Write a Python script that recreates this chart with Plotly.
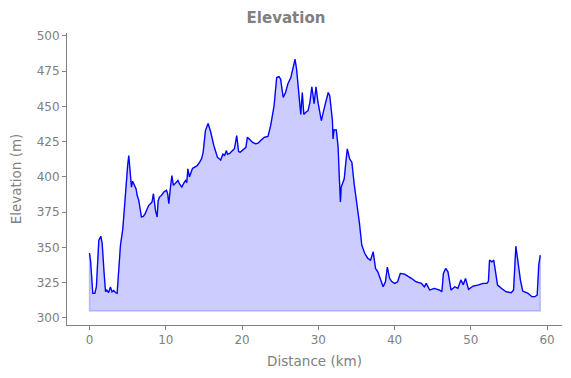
import plotly.graph_objects as go

distance_km = [0, 0.15, 0.43, 0.7, 0.9, 1.22, 1.48, 1.66, 1.9, 2.1, 2.27, 2.5, 2.75, 2.95, 3.18, 3.4, 3.62,
               3.85, 4.06, 4.37, 4.7, 5.0, 5.15, 5.3, 5.5, 5.65, 5.8, 6.1, 6.25, 6.46, 6.81, 7.05, 7.25, 7.5,
               7.77, 8.0, 8.2, 8.38, 8.5, 8.65, 8.87, 9.0, 9.17, 9.43, 9.74, 10.1, 10.25, 10.4, 10.6, 10.8,
               11.0, 11.2, 11.6, 11.8, 12.1, 12.4, 12.6, 12.75, 12.9, 13.1, 13.3, 13.5, 13.8, 14.1, 14.45,
               14.7, 14.9, 15.05, 15.2, 15.55, 15.9, 16.3, 16.5, 16.77, 17.0, 17.2, 17.5, 17.7, 17.95, 18.1,
               18.4, 18.8, 19.0, 19.3, 19.55, 19.75, 20.35, 20.5, 20.7, 21.1, 21.4, 21.8, 22.1, 22.45, 22.9,
               23.4, 23.75, 24.2, 24.4, 24.54, 24.85, 25.06, 25.25, 25.4, 25.7, 26.0, 26.4, 26.7, 26.95,
               27.15, 27.4, 27.7, 27.9, 28.1, 28.4, 28.65, 28.9, 29.15, 29.45, 29.7, 29.96, 30.4, 30.8,
               31.3, 31.5, 31.7, 31.85, 31.93, 32.06, 32.36, 32.6, 32.75, 32.9, 33.0, 33.2, 33.4, 33.6,
               33.8, 34.1, 34.4, 34.7, 35.0, 35.4, 35.7, 36.1, 36.5, 36.85, 37.2, 37.5, 37.8, 38.0, 38.5,
               38.8, 39.05, 39.35, 39.6, 40.0, 40.4, 40.75, 41.3, 42.2, 42.8, 43.5, 43.9, 44.15, 44.6,
               45.2, 45.9, 46.2, 46.4, 46.7, 47.0, 47.4, 47.9, 48.3, 48.7, 49.0, 49.3, 49.7, 50.3, 50.9,
               51.6, 52.1, 52.3, 52.45, 52.76, 53.0, 53.2, 53.5, 54.0, 54.6, 55.3, 55.6, 55.9, 56.2, 56.5,
               56.8, 57.5, 58.0, 58.4, 58.7, 58.9, 59.1]

elevation_m = [346, 340, 317.4, 317.5, 322, 355, 358, 353, 333, 318.6, 319.8, 318, 322, 318.5, 319.5, 318, 317.5,
               335, 351.6, 363.4, 390, 408, 415.2, 405, 392.8, 397, 395.2, 391.7, 387, 383.4, 371.6, 372, 373.5, 377,
               379.9, 381, 382.2, 388.1, 381, 376.3, 371.6, 383, 385.7, 386.9, 389.3, 390.5, 388, 381, 392, 401,
               394, 395.2, 397.5, 395, 392.8, 396, 397.5, 396, 405.8, 400, 403.4, 406, 407, 408, 410.5,
               413, 417.5, 425, 432.9, 438, 431.7, 422.3, 418, 414, 413, 412, 416.4, 415, 418.7, 416,
               416.8, 418.7, 420, 429.3, 418, 417.5, 419.9, 421, 428.1, 425.8, 424.5, 423.5, 424, 425.8, 428.1,
               428.8, 436.4, 450.5, 462, 470.5, 471.2, 469.4, 462, 456.4, 459.9, 465.9, 470.5, 477.6, 483.5,
               476.5, 459.9, 444.4, 459.9, 444.4, 446, 447, 452.9, 464, 452, 464, 452.9, 439.9, 449.3,
               459.9, 457.6, 449.3, 440, 427, 433.4, 433.4, 421, 400, 382.2, 392.8, 396, 398.7, 410,
               419.9, 412.9, 410.5, 395.2, 383.4, 366.9, 351.6, 345.7, 342.2, 341, 346.9, 335.1, 332.7, 329.2, 322.1,
               325.7, 336, 328.1, 326, 324.5, 325.7, 331.6, 331.1, 328.1, 325.7, 324.5, 322.1, 324.5, 319.8,
               321, 319.8, 318.6, 331.6, 335.1, 332.7, 319.8, 322.1, 321, 327, 323.5, 328, 320.3, 322.6, 323.3,
               324.5, 324.5, 326, 341, 339.8, 341, 332.7, 323.3, 321, 318.6, 317.9, 319.8, 350.9, 338.7, 326.9,
               319.1, 317.5, 315.1, 315.1, 316.3, 337.5, 344.5]

baseline_m = 305
x_ticks = [0, 10, 20, 30, 40, 50, 60]
y_ticks = [300, 325, 350, 375, 400, 425, 450, 475, 500]

grey = "#808080"

poly_x = distance_km + [distance_km[-1], distance_km[0], distance_km[0]]
poly_y = elevation_m + [baseline_m, baseline_m, elevation_m[0]]

fig = go.Figure()
fig.add_trace(go.Scatter(x=poly_x, y=poly_y, mode="lines", fill="toself",
                         fillcolor="rgba(0,0,255,0.2)",
                         line=dict(color="rgba(0,0,255,0.2)", width=1.5),
                         hoverinfo="skip", showlegend=False))
fig.add_trace(go.Scatter(x=distance_km, y=elevation_m, mode="lines",
                         line=dict(color="#0000ff", width=1.3), showlegend=False))

axis_common = dict(showgrid=False, zeroline=False, showline=True, linecolor=grey, linewidth=1,
                   ticks="outside", ticklen=4, tickcolor=grey, tickwidth=1,
                   tickfont=dict(family="DejaVu Sans", size=12, color=grey),
                   mirror=False, automargin=False)

# page has an 8px body margin, so the figure is 563x370 and offset by 8px
W, H = 563, 370
fig.update_layout(
    width=W, height=H,
    margin=dict(l=59, r=9, t=25, b=53),
    paper_bgcolor="white", plot_bgcolor="white",
    title=dict(text="<b>Elevation</b>", x=278 / W, xanchor="center", xref="container",
               y=1 - 10 / H, yref="container", yanchor="middle",
               font=dict(family="DejaVu Sans", size=15, color=grey)),
    xaxis=dict(range=[-2.95, 61.95], tickvals=x_ticks,
               title=dict(text="Distance (km)", standoff=10,
                          font=dict(family="DejaVu Sans", size=13.5, color=grey)),
               **axis_common),
    yaxis=dict(range=[295, 502.1], tickvals=y_ticks,
               title=dict(text="Elevation (m)", standoff=11,
                          font=dict(family="DejaVu Sans", size=13.5, color=grey)),
               **axis_common),
)

fig.write_html("out.html")
